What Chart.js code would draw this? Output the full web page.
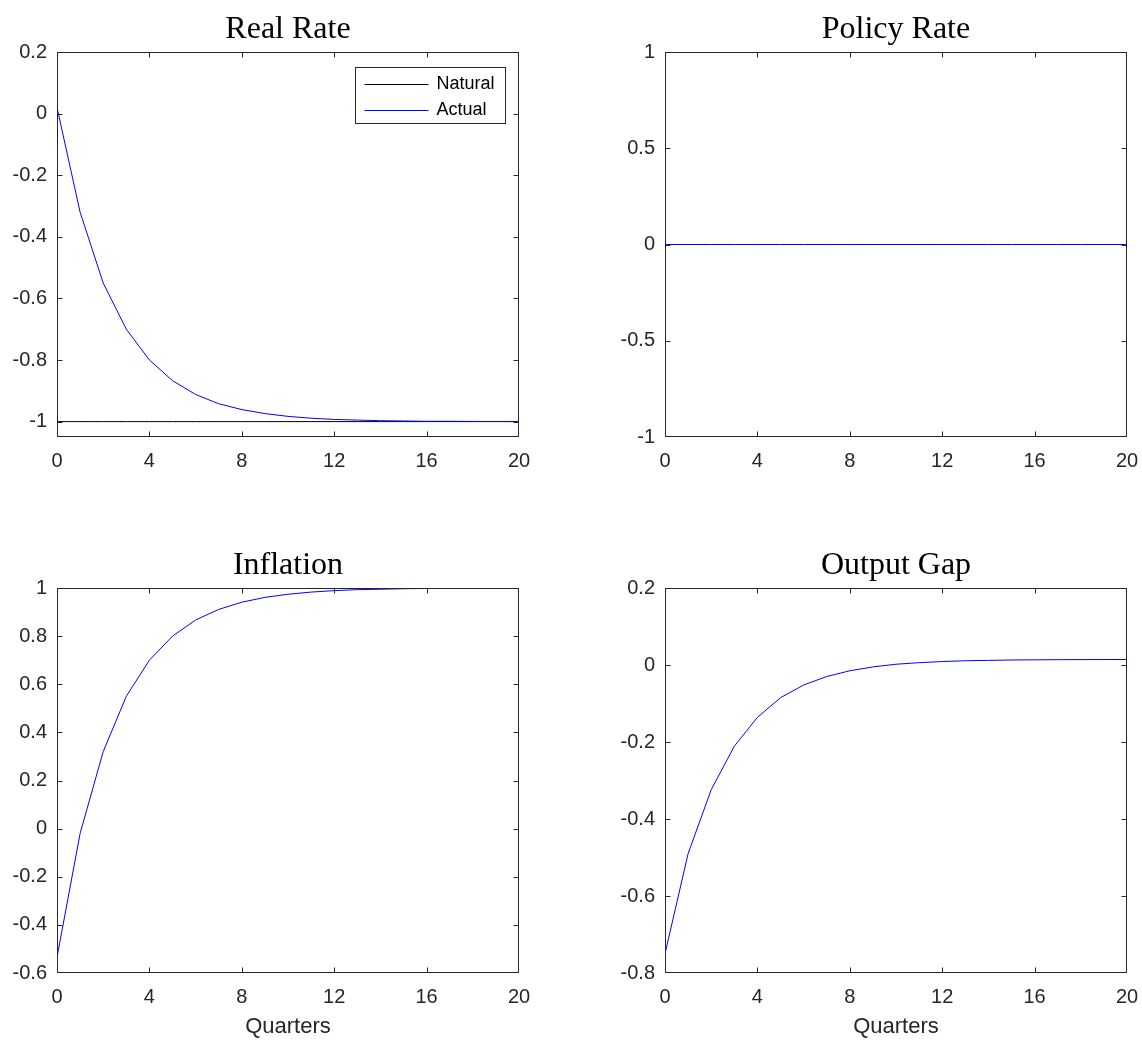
<!DOCTYPE html>
<html>
<head>
<meta charset="utf-8">
<title>Real Rate, Policy Rate, Inflation, Output Gap</title>
<script src="https://cdn.jsdelivr.net/npm/chart.js@4.4.1/dist/chart.umd.min.js"></script>
<style>
    body { margin: 0; background: #fff; overflow: hidden; }
    .panel { position: absolute; }
</style>
</head>
<body>
<canvas id="chartReal" class="panel" width="534" height="500" style="left:0;top:0;"></canvas>
<canvas id="chartPolicy" class="panel" width="534" height="500" style="left:608px;top:0;"></canvas>
<canvas id="chartInflation" class="panel" width="534" height="505" style="left:0;top:536px;"></canvas>
<canvas id="chartGap" class="panel" width="534" height="505" style="left:608px;top:536px;"></canvas>

<script>
// Datos (trimestres 0..20)
const quarters = [0, 1, 2, 3, 4, 5, 6, 7, 8, 9, 10, 11, 12, 13, 14, 15, 16, 17, 18, 19, 20];
const xTicks = [0, 4, 8, 12, 16, 20];

const realNatural = [-1, -1, -1, -1, -1, -1, -1, -1, -1, -1, -1, -1, -1, -1, -1, -1, -1, -1, -1, -1, -1];
const realActual = [0.02, -0.32, -0.55, -0.70, -0.80, -0.867, -0.912, -0.942, -0.961, -0.974, -0.983,
    -0.989, -0.993, -0.995, -0.997, -0.998, -0.999, -0.999, -0.9995, -0.9997, -0.9998];
const policyRate = [0, 0, 0, 0, 0, 0, 0, 0, 0, 0, 0, 0, 0, 0, 0, 0, 0, 0, 0, 0, 0];
const inflation = [-0.535, -0.02, 0.32, 0.55, 0.70, 0.80, 0.867, 0.911, 0.941, 0.961, 0.974,
    0.983, 0.989, 0.993, 0.995, 0.997, 0.998, 0.9986, 0.999, 0.9994, 0.9996];
const outputGap = [-0.75, -0.49, -0.324, -0.211, -0.136, -0.085, -0.052, -0.03, -0.015, -0.005, 0.002,
    0.006, 0.009, 0.011, 0.012, 0.013, 0.0134, 0.0138, 0.014, 0.0142, 0.0144];

const realTicks = [-1, -0.8, -0.6, -0.4, -0.2, 0, 0.2];
const policyTicks = [-1, -0.5, 0, 0.5, 1];
const inflationTicks = [-0.6, -0.4, -0.2, 0, 0.2, 0.4, 0.6, 0.8, 1];
const gapTicks = [-0.8, -0.6, -0.4, -0.2, 0, 0.2];

const AXIS_COLOR = "#262626";

Chart.defaults.font.family = "'Liberation Sans', Arial, sans-serif";
Chart.defaults.color = AXIS_COLOR;

// Caja y marcas hacia adentro en los cuatro lados
const marcoPlugin = {
    id: "marco",
    afterDraw(chart) {
        const { ctx, chartArea: a, scales } = chart;
        const L = Math.round(a.left) + 0.5, R = Math.round(a.right) - 0.5;
        const T = Math.round(a.top) + 0.5, B = Math.round(a.bottom) - 0.5;
        ctx.save();
        ctx.strokeStyle = AXIS_COLOR;
        ctx.lineWidth = 1;
        ctx.beginPath();
        scales.x.ticks.forEach(t => {
            const px = Math.min(Math.round(scales.x.getPixelForValue(t.value)) + 0.5, R);
            ctx.moveTo(px, B); ctx.lineTo(px, B - 5);
            ctx.moveTo(px, T); ctx.lineTo(px, T + 5);
        });
        scales.y.ticks.forEach(t => {
            const py = Math.min(Math.round(scales.y.getPixelForValue(t.value)) + 0.5, B);
            ctx.moveTo(L, py); ctx.lineTo(L + 5, py);
            ctx.moveTo(R, py); ctx.lineTo(R - 5, py);
        });
        ctx.stroke();
        ctx.strokeRect(L, T, R - L, B - T);
        ctx.restore();
    }
};

// Leyenda con caja dentro del area del grafico (esquina superior derecha)
const leyendaPlugin = {
    id: "leyendaCaja",
    afterDraw(chart, args, opts) {
        if (!opts || !opts.display) return;
        const { ctx, chartArea: a } = chart;
        const w = 150, h = 56;
        const x0 = Math.round(a.right - 14 - w) + 0.5;
        const y0 = Math.round(a.top + 15) + 0.5;
        ctx.save();
        ctx.fillStyle = "#fff";
        ctx.fillRect(x0, y0, w, h);
        ctx.strokeStyle = AXIS_COLOR;
        ctx.lineWidth = 1;
        ctx.strokeRect(x0, y0, w, h);
        ctx.font = "18px 'Liberation Sans', Arial, sans-serif";
        ctx.textBaseline = "middle";
        ctx.textAlign = "left";
        chart.data.datasets.forEach((ds, i) => {
            const yy = y0 + 17 + i * 26;
            ctx.beginPath();
            ctx.strokeStyle = ds.borderColor;
            ctx.lineWidth = 1;
            ctx.moveTo(x0 + 9, yy);
            ctx.lineTo(x0 + 73, yy);
            ctx.stroke();
            ctx.fillStyle = "#000";
            ctx.fillText(ds.label, x0 + 81, yy);
        });
        ctx.restore();
    }
};

function puntos(valores) {
    return quarters.map((q, i) => ({ x: q, y: valores[i] }));
}

function serie(label, valores, color, orden) {
    return {
        label: label,
        data: puntos(valores),
        borderColor: color,
        borderWidth: 1,
        pointRadius: 0,
        tension: 0,
        fill: false,
        order: orden
    };
}

function crearPanel(id, titulo, datasets, yMin, yMax, yTicks, conEjeX, conLeyenda) {
    const canvas = document.getElementById(id);
    const altoEjeX = canvas.height - 437;

    return new Chart(canvas, {
        type: "line",
        data: { datasets: datasets },
        plugins: [marcoPlugin, leyendaPlugin],
        options: {
            responsive: false,
            animation: false,
            layout: { padding: { left: 0, right: 15, top: 0, bottom: 0 } },
            plugins: {
                legend: { display: false },
                tooltip: { enabled: false },
                title: {
                    display: true,
                    fullSize: false,
                    text: titulo,
                    color: "#000",
                    font: { family: "'Liberation Serif', 'Times New Roman', serif", size: 32, weight: "normal" },
                    padding: { top: 10, bottom: 3.6 }
                },
                leyendaCaja: { display: conLeyenda }
            },
            scales: {
                x: {
                    type: "linear",
                    min: 0,
                    max: 20,
                    afterBuildTicks: s => { s.ticks = xTicks.map(v => ({ value: v })); },
                    afterFit: s => { s.height = altoEjeX; },
                    grid: { display: false, drawTicks: false },
                    border: { display: false },
                    ticks: { font: { size: 20, lineHeight: 2.4 }, padding: 0, maxRotation: 0, color: AXIS_COLOR },
                    title: {
                        display: conEjeX,
                        text: "Quarters",
                        color: AXIS_COLOR,
                        font: { size: 22 },
                        padding: { top: 0, bottom: 1 }
                    }
                },
                y: {
                    type: "linear",
                    min: yMin,
                    max: yMax,
                    afterBuildTicks: s => { s.ticks = yTicks.map(v => ({ value: v })); },
                    afterFit: s => { s.width = 57; },
                    grid: { display: false, drawTicks: false },
                    border: { display: false },
                    ticks: {
                        font: { size: 20 },
                        padding: 10,
                        color: AXIS_COLOR,
                        callback: v => String(Math.round(v * 100) / 100)
                    }
                }
            }
        }
    });
}

document.addEventListener("DOMContentLoaded", function () {

    crearPanel("chartReal", "Real Rate", [
        serie("Natural", realNatural, "#000000", 1),
        serie("Actual", realActual, "#0000ff", 0)
    ], -1.05, 0.2, realTicks, false, true);

    crearPanel("chartPolicy", "Policy Rate", [
        serie("Policy", policyRate, "#0000ff", 0)
    ], -1, 1, policyTicks, false, false);

    crearPanel("chartInflation", "Inflation", [
        serie("Inflation", inflation, "#0000ff", 0)
    ], -0.6, 1, inflationTicks, true, false);

    crearPanel("chartGap", "Output Gap", [
        serie("Output Gap", outputGap, "#0000ff", 0)
    ], -0.8, 0.2, gapTicks, true, false);

});
</script>
</body>
</html>
